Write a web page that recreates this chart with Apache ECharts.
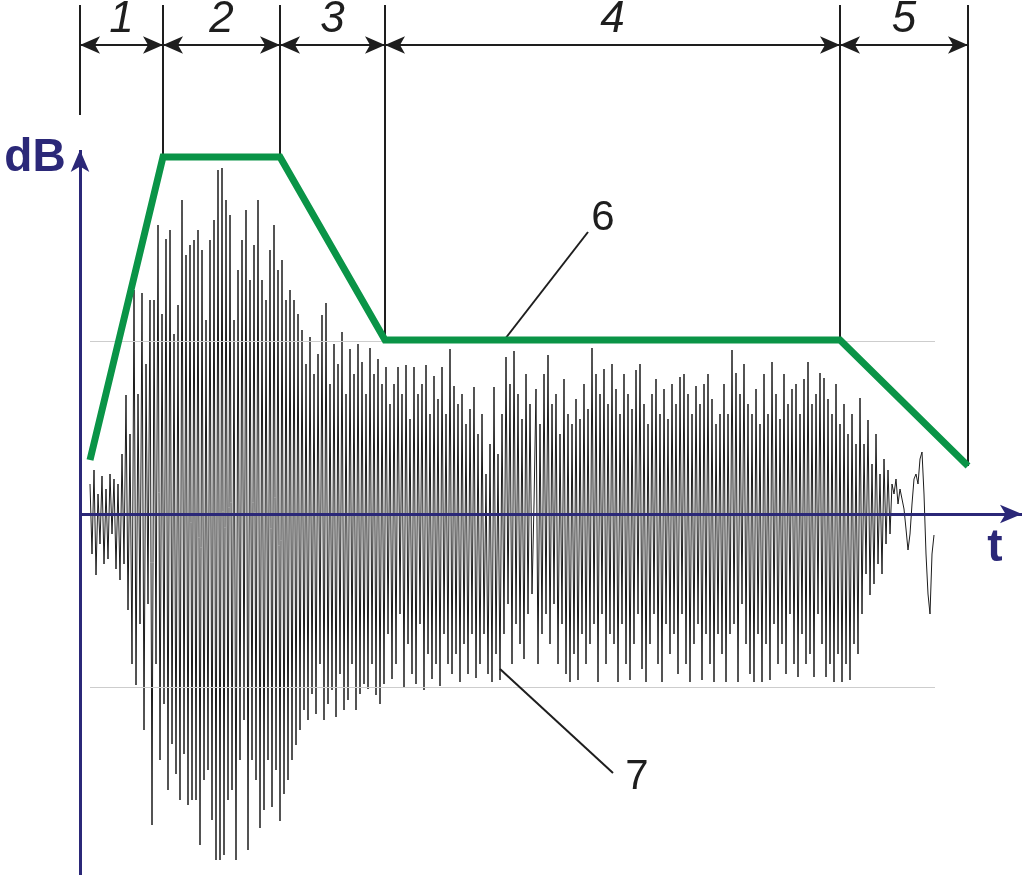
<!DOCTYPE html>
<html><head><meta charset="utf-8">
<script src="https://cdn.jsdelivr.net/npm/echarts@6/dist/echarts.min.js"></script>
<style>html,body{margin:0;padding:0;background:#fff}#c{width:1024px;height:878px}</style>
</head><body><div id="c"></div>
<script>
// time axis origin at the dB axis; amplitude 0 on the t axis (1 unit = 1 px)
const waveT0 = 10, waveStep = 2;
const waveAttack = [30,-40,44,-61,20,-30,38,-50,25,-45,40,-20,35,-55,30,-66,60,-50,
  119,-96,80,-150,224,-171,120,-110,221,-216,150,-90,214,
  -311,214,-150,289,-246,200,-190,275,-276,284,-230,180,-260,209,-286,314,-240,259,-291,269,-286,274,-286,284,-331];
const wavePeak = [264,-266,194,-256,274,-306,294,-346,344,-346,346,-341,314,-286,299,-276,194,-346,244,-246,274,-206,304,-336,234,-246,269,-266,314,-314,
  234,-296,214,-246,264,-293,289,-256,244,-307,254,-280,214,-266,224,-246,214,-231,200,-216];
const waveDecay = [184,-196,150,-206,177,-180,140,-200,160,-150,199,-206,211,-190,130,-176,170,-203,150,-160,182,-196,120,-186,165,-150,140,-196,170,-180,152,-170,120,-175,166,-150,140,-181,155,-190];
const waveSustain = [130,-170,147,-120,110,-165,130,-150,147,-100,120,-174,149,-130,95,-160,147,-170,120,-110,130,-176,149,-140,100,-165,138,-150,115,-172,147,-120,100,-150,165,-160,128,-140,110,-168,120,-130,90,-160,105,-120,127,-164,80,-150,100,-120,40,-160,70,-168,127,-140,60,-166,
  100,-120,157,-90,130,-150,163,-110,120,-130,95,-145,140,-100,110,-80,10,125,-150,90,-120,140,-100,159,-130,110,-90,120,-150,80,-110,135,-160,100,-168,90,-140,115,-166,95,-120,130,-150,105,-130,166,-110,140,-168,120,-100,145,-150,110,-120,150,-130,125,-168,100,-110,140,-150,120,-166,105,-130,144,-100,150,-155,110,-168,90,-130,120,-100,135,-150,100,-168,125,-110,95,-140,130,-120,110,-160,137,-100,140,-150,120,-168,100,-130,128,-110,110,-166,130,-120,140,-150,115,-168,90,-120,100,
  -140,130,-168,100,-120,164,-110,141,-168,120,-90,150,-130,110,-160,100,-168,125,-120,90,-168,140,-130,100,-166,152,-110,120,-150,95,-130,140,-160,110,-100,125,-150,130,-163,100,-120,135,-150,152,-140,110,-163,120,-100,141,-130,136,-163,115,-150,100,-168,130,-140,90,-168,110,-150,80,-166,100,-130,70,-140,116];
const waveRelease = [-100,70,-60,94,-81,50,-70,80,-50,40,-60,55,-30,44,-20,
  30,20,35,10,25,15,5,-15,-36,-20,10,35,40,30,55,62,20,-40,-80,-100,-40,-21];

const envT = [10,83,200,305,760,888];
const envLevel = [54,357,357,174,174,48];
const phaseLabels = ['1','2','3','4','5'];
const grayLevels = [173,-173];

const FONT = '"Liberation Sans", Arial, sans-serif';
const AXIS = '#2b2878';
const INK = '#1e1e1e';

const wave = [].concat(waveAttack, wavePeak, waveDecay, waveSustain, waveRelease);
const waveData = wave.map((v,i)=>[waveT0 + i*waveStep, v]);
const envData = envT.map((t,i)=>[t, envLevel[i]]);

const topY = 509, dimY = 469, labelY = 494;
const bx = envT.map((t,i)=> i===0 ? 0 : t);
const verticals = bx.map((x,i)=>[{coord:[x, i===0 ? 399 : envLevel[i]]},{coord:[x,topY]}]);
const dims = phaseLabels.map((l,i)=>[{coord:[bx[i],dimY]},{coord:[bx[i+1],dimY]}]);
const phaseText = phaseLabels.map((l,i)=>({name:l, value:[(bx[i]+bx[i+1])/2, labelY]}));

function guide(name, data, sym, size, color, width){
  return {type:'line', name, data:[], silent:true, animation:false,
    markLine:{silent:true, animation:false, symbol:sym, symbolSize:size, label:{show:false},
      lineStyle:{color, width, type:'solid', opacity:1}, emphasis:{disabled:true}, data}};
}
function texts(name, data, style){
  return {type:'scatter', name, data, symbolSize:0, silent:true, z:8, itemStyle:{opacity:1},
    label:Object.assign({show:true, position:'inside', formatter:'{b}', opacity:1, fontFamily:FONT}, style)};
}

const chart = echarts.init(document.getElementById('c'));
chart.setOption({
  animation:false,
  grid:{left:0,right:0,top:0,bottom:0},
  xAxis:{type:'value', min:-80, max:944, show:false},
  yAxis:{type:'value', min:-364, max:514, show:false},
  series:[
    guide('gray', grayLevels.map(y=>[{coord:[10,y]},{coord:[855,y]}]), 'none', 0, '#cdcdcd', 1),
    {type:'line', name:'wave', data:waveData, showSymbol:false, clip:false, z:3,
      lineStyle:{color:'#1c1c1c', width:1}, silent:true},
    guide('axes', [[{coord:[0,0]},{coord:[942,0]}],[{coord:[0,-361]},{coord:[0,364]}]], ['none','arrow'], [14,22], AXIS, 3),
    guide('verticals', verticals, 'none', 0, INK, 2),
    guide('dims', dims, ['arrow','arrow'], [13,20], INK, 2),
    guide('leaders', [[{coord:[425,175]},{coord:[508,282]}],[{coord:[420,-155]},{coord:[533,-259]}]], 'none', 0, INK, 2),
    {type:'line', name:'envelope', data:envData, showSymbol:false, clip:false, z:6, silent:true,
      lineStyle:{color:'#0a9447', width:7, join:'miter', cap:'butt'}},
    texts('phases', phaseText, {color:INK, fontSize:44, fontStyle:'italic'}),
    texts('callouts', [{name:'6', value:[523,296]},{name:'7', value:[557,-263]}], {color:INK, fontSize:42}),
    texts('axisNames', [{name:'dB', value:[-45,356]},{name:'t', value:[915,-34]}], {color:AXIS, fontSize:46, fontWeight:'bold'})
  ]
});
</script></body></html>
